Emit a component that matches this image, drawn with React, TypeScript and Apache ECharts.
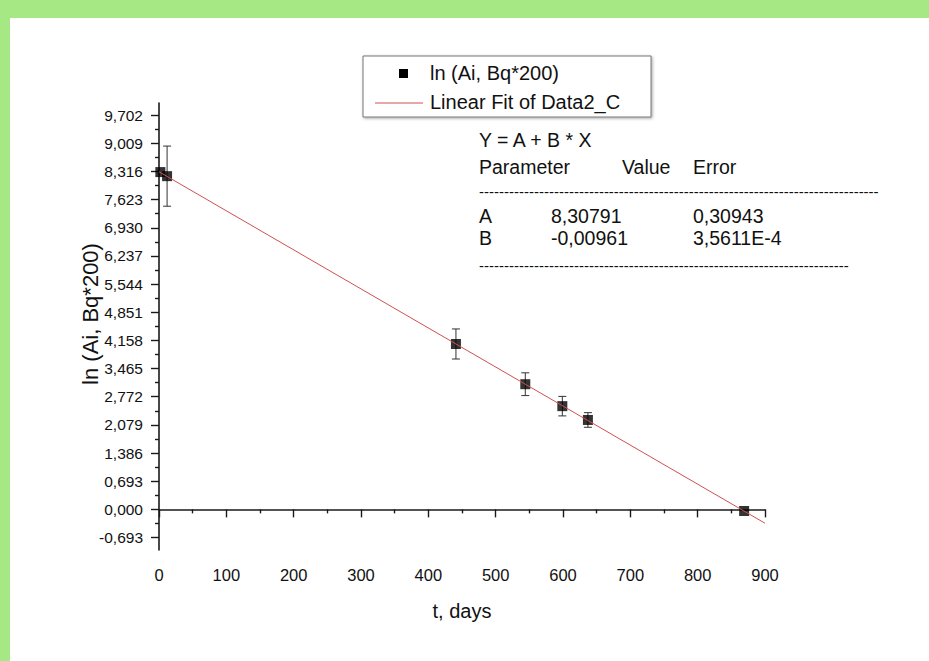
import React, { useEffect, useRef } from "react";
import * as echarts from "echarts";

// ---- data ----
const days = [2, 12, 441, 544, 599, 637, 869];
const lnActivity = [8.3, 8.2, 4.07, 3.08, 2.54, 2.2, -0.04];
const lnErrors = [0, 0.74, 0.37, 0.28, 0.24, 0.18, 0.0];

const fitDays = [0, 900];
const fitValues = [8.308, -0.341];

const yTickValues = [
  -0.693, 0, 0.693, 1.386, 2.079, 2.772, 3.465, 4.158, 4.851, 5.544, 6.237,
  6.93, 7.623, 8.316, 9.009, 9.702,
];
const yMinorTickValues = [
  -0.3465, 0.3465, 1.0395, 1.7325, 2.4255, 3.1185, 3.8115, 4.5045, 5.1975,
  5.8905, 6.5835, 7.2765, 7.9695, 8.6625, 9.3555,
];

const legendNames = ["ln (Ai, Bq*200)", "Linear Fit of Data2_C"];
const yTitle = "ln (Ai, Bq*200)";
const xTitle = "t, days";
const fitEquation = "Y = A + B * X";
const paramHeader = ["Parameter", "Value", "Error"];
const paramNames = ["A", "B"];
const paramValues = ["8,30791", "-0,00961"];
const paramErrors = ["0,30943", "3,5611E-4"];

const FONT = "'Liberation Sans', Arial, sans-serif";
const TXT = "#111";

export default function App() {
  const ref = useRef<HTMLDivElement>(null);

  useEffect(() => {
    if (!ref.current) return;
    const chart = echarts.init(ref.current, undefined, { renderer: "svg" });

    const points = days.map((d, i) => [d, lnActivity[i]]);
    const bars = days.map((d, i) => [d, lnActivity[i], lnErrors[i]]);
    const fit = fitDays.map((d, i) => [d, fitValues[i]]);

    const txt = (x: number, y: number, s: string, size = 19.5) => ({
      type: "text",
      x,
      y,
      z: 10,
      style: {
        text: s,
        fill: TXT,
        font: `${size}px ${FONT}`,
        textVerticalAlign: "middle",
      },
    });

    const option: any = {
      animation: false,
      backgroundColor: "#ffffff",
      grid: { left: 159, right: 164, top: 103, bottom: 111 },
      xAxis: {
        type: "value",
        min: 0,
        max: 900,
        interval: 100,
        name: xTitle,
        nameLocation: "middle",
        nameGap: 51,
        nameTextStyle: { fontSize: 20, color: TXT, fontFamily: FONT },
        axisLine: { show: true, lineStyle: { color: "#1a1a1a", width: 1.6 } },
        axisTick: { show: true, length: 8, lineStyle: { color: "#1a1a1a", width: 1.4 } },
        minorTick: { show: true, splitNumber: 2, length: 4, lineStyle: { color: "#1a1a1a", width: 1.4 } },
        axisLabel: { fontSize: 16.5, color: TXT, fontFamily: FONT, margin: 16 },
        splitLine: { show: false },
      },
      yAxis: [
        {
          type: "value",
          min: -1,
          max: 10,
          position: "left",
          axisLine: { show: true, lineStyle: { color: "#1a1a1a", width: 1.6 } },
          axisTick: {
            show: true,
            length: 8,
            customValues: yTickValues,
            lineStyle: { color: "#1a1a1a", width: 1.4 },
          },
          axisLabel: {
            fontSize: 15.5,
            color: TXT,
            fontFamily: FONT,
            margin: 16,
            customValues: yTickValues,
            formatter: (v: number) => v.toFixed(3).replace(".", ","),
          },
          splitLine: { show: false },
        },
        {
          type: "value",
          min: -1,
          max: 10,
          position: "left",
          axisLine: { show: false },
          axisTick: {
            show: true,
            length: 4,
            customValues: yMinorTickValues,
            lineStyle: { color: "#1a1a1a", width: 1.4 },
          },
          axisLabel: { show: false },
          splitLine: { show: false },
        },
      ],
      graphic: [
        { type: "rect", shape: { x: 0, y: 0, width: 929, height: 18 }, style: { fill: "#a6e884" }, z: 20 },
        { type: "rect", shape: { x: 0, y: 0, width: 10, height: 661 }, style: { fill: "#a6e884" }, z: 20 },
        {
          type: "text",
          x: 90,
          y: 314,
          rotation: Math.PI / 2,
          z: 10,
          style: {
            text: yTitle,
            fill: TXT,
            font: `22px ${FONT}`,
            textAlign: "center",
            textVerticalAlign: "middle",
          },
        },
        {
          type: "rect",
          z: 9,
          shape: { x: 363, y: 56, width: 288, height: 61 },
          style: {
            fill: "#fff",
            stroke: "#777",
            lineWidth: 1,
            shadowBlur: 3,
            shadowOffsetX: 1,
            shadowOffsetY: 1,
            shadowColor: "rgba(0,0,0,0.35)",
          },
        },
        { type: "rect", z: 10, shape: { x: 399, y: 69, width: 9, height: 9 }, style: { fill: "#000" } },
        {
          type: "line",
          z: 10,
          shape: { x1: 375, y1: 103, x2: 423, y2: 103 },
          style: { stroke: "#d05050", lineWidth: 1 },
        },
        txt(430, 73, legendNames[0], 20),
        txt(430, 102, legendNames[1], 20),
        txt(479, 140, fitEquation),
        txt(479, 167, paramHeader[0]),
        txt(622, 167, paramHeader[1]),
        txt(693, 167, paramHeader[2]),
        txt(479, 191, "-".repeat(80), 15),
        txt(479, 216, paramNames[0]),
        txt(551, 216, paramValues[0]),
        txt(693, 216, paramErrors[0]),
        txt(479, 238, paramNames[1]),
        txt(551, 238, paramValues[1]),
        txt(693, 238, paramErrors[1]),
        txt(479, 265, "-".repeat(74), 15),
      ],
      series: [
        {
          name: "errors",
          type: "custom",
          z: 2,
          data: bars,
          renderItem: (params: any, api: any) => {
            const x = api.value(0);
            const y = api.value(1);
            const e = api.value(2);
            if (!e) return null;
            const hi = api.coord([x, y + e]);
            const lo = api.coord([x, y - e]);
            const w = 4;
            const st = { stroke: "#333", lineWidth: 1 };
            return {
              type: "group",
              children: [
                { type: "line", shape: { x1: hi[0], y1: hi[1], x2: lo[0], y2: lo[1] }, style: st },
                { type: "line", shape: { x1: hi[0] - w, y1: hi[1], x2: hi[0] + w, y2: hi[1] }, style: st },
                { type: "line", shape: { x1: lo[0] - w, y1: lo[1], x2: lo[0] + w, y2: lo[1] }, style: st },
              ],
            };
          },
        },
        {
          name: legendNames[0],
          type: "scatter",
          z: 3,
          symbol: "rect",
          symbolSize: 10,
          itemStyle: { color: "#000" },
          data: points,
        },
        {
          name: legendNames[1],
          type: "line",
          z: 4,
          symbol: "none",
          lineStyle: { color: "#d05050", width: 1 },
          data: fit,
        },
      ],
    };

    chart.setOption(option);
    return () => chart.dispose();
  }, []);

  return (
    <div
      ref={ref}
      style={{ position: "absolute", left: 0, top: 0, width: 929, height: 661 }}
    />
  );
}
